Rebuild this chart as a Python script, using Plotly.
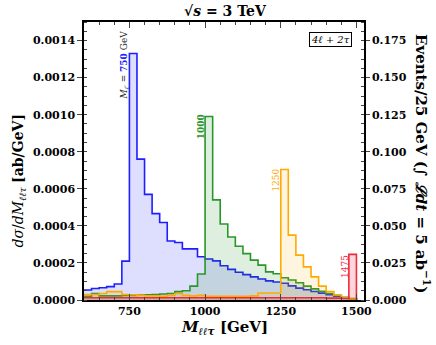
import numpy as np
import plotly.graph_objects as go

# 25 GeV bins, lower edges 600 ... 1475
bin_lo = np.arange(600, 1500, 25)
bin_width = 25
lumi = 5.0  # ab^-1

# dsigma/dM [ab/GeV]
m750 = [0.000054, 0.000062, 0.000066, 0.000072, 0.000086, 0.00021, 0.00133, 0.00076,
        0.00057, 0.000466, 0.000418, 0.000318, 0.00031, 0.000276, 0.000276, 0.000233,
        0.000221, 0.000211, 0.000185, 0.000165, 0.00015, 0.000137, 0.000125, 0.000113,
        0.000103, 0.000097, 0.00009, 0.000076, 0.000064, 0.000055, 0.000046, 0.000037,
        0.000028, 0.00002, 0.000012, 0.000006]
m1000 = [0.00002, 0.000035, 0.000022, 0.000022, 0.000022, 0.000025, 0.000025, 0.000027,
         0.000028, 0.00003, 0.000032, 0.000035, 0.000045, 0.00005, 0.000075, 0.00014,
         0.00099, 0.00054, 0.00041, 0.00034, 0.00029, 0.00025, 0.000215, 0.000188,
         0.000152, 0.000142, 0.00012, 0.000108, 0.000093, 0.000075, 0.00006, 0.000047,
         0.000035, 0.000025, 0.000015, 0.000008]
m1250 = [0.00003, 0.00003, 0.000035, 0.000045, 0.000045, 0.00003, 0.000028, 0.000025,
         0.000022, 0.000022, 0.00002, 0.000025, 0.000035, 0.000025, 0.000022, 0.000025,
         0.00002, 0.00002, 0.00002, 0.00002, 0.00002, 0.00002, 0.000022, 0.000038,
         0.000038, 0.000038, 0.000704, 0.00035, 0.000242, 0.000179, 0.000125, 0.000075,
         0.000045, 0.000027, 0.000012, 0.000005]
m1475 = [0.000012, 0.000012, 0.000012, 0.000012, 0.000012, 0.000012, 0.000012, 0.000012,
         0.000012, 0.000012, 0.000012, 0.000012, 0.000012, 0.000012, 0.000012, 0.000012,
         0.000012, 0.000012, 0.000012, 0.000012, 0.000012, 0.000012, 0.000012, 0.000012,
         0.000012, 0.000012, 0.000012, 0.000012, 0.000012, 0.000012, 0.000012, 0.000012,
         0.00001, 0.00001, 0.000008, 0.000246]

x_ticks = [750, 1000, 1250, 1500]
serif = "DejaVu Serif"

series = [
    (m750, "rgb(30,30,255)", "rgba(60,60,255,0.17)"),
    (m1000, "rgb(40,150,40)", "rgba(40,150,40,0.15)"),
    (m1250, "rgb(255,170,0)", "rgba(255,170,0,0.13)"),
    (m1475, "rgb(240,40,60)", "rgba(240,40,60,0.18)"),
]

edges = list(bin_lo) + [bin_lo[-1] + bin_width]

fig = go.Figure()
for vals, line_c, fill_c in series:
    fig.add_trace(
        go.Scatter(
            x=edges + [edges[-1]],
            y=list(vals) + [vals[-1], 0],
            mode="lines",
            line=dict(color=line_c, width=1.6, shape="hv"),
            fill="tozeroy",
            fillcolor=fill_c,
            showlegend=False,
            hoverinfo="skip",
        )
    )

# dummy trace so the event-count axis is drawn
fig.add_trace(go.Scatter(x=[None], y=[None], yaxis="y2", showlegend=False))

y_max = 0.0015
axis_common = dict(
    showline=True, linecolor="black", linewidth=1.5, showgrid=False, zeroline=False,
    tickfont=dict(family=serif, size=11, color="black"),
)

fig.update_layout(
    width=436,
    height=345,
    margin=dict(l=84, r=72, t=22, b=45),
    plot_bgcolor="white",
    paper_bgcolor="white",
    font=dict(family=serif, color="black"),
    xaxis=dict(
        range=[600, 1525], tickvals=x_ticks, ticktext=[f"<b>{t}</b>" for t in x_ticks],
        ticks="inside", ticklen=6, mirror="ticks",
        minor=dict(dtick=50, tick0=600, ticks="inside", ticklen=3), **axis_common,
    ),
    yaxis=dict(
        range=[0, y_max], dtick=0.0002, tickformat=".4f", ticks="outside", ticklen=5,
        minor=dict(dtick=0.00005, ticks="inside", ticklen=3), tickprefix="<b>", ticksuffix="</b>",
        **axis_common,
    ),
    yaxis2=dict(
        overlaying="y", side="right", range=[0, y_max * lumi * bin_width], dtick=0.025,
        tickformat=".3f", ticks="outside", ticklen=4,
        minor=dict(dtick=0.00625, ticks="inside", ticklen=3), tickprefix="<b>", ticksuffix="</b>",
        **axis_common,
    ),
)

ann = [
    dict(text="<b>√<i>s</i> = 3 TeV</b>", x=0.504, y=1.04, xref="paper", yref="paper",
         font=dict(size=14)),
    dict(text="<b><i>M</i><sub><i>ℓℓτ</i></sub> [GeV]</b>", x=0.5, y=-0.1, xref="paper",
         yref="paper", font=dict(size=15)),
    dict(text="<i>dσ</i>/<i>dM</i><sub><i>ℓℓτ</i></sub> <b>[ab/GeV]</b>", x=-0.232, y=0.43,
         xref="paper", yref="paper", textangle=-90, font=dict(size=14)),
    dict(text="<b>Events/25 GeV (∫ <i>ℒdt</i> = 5 ab<sup>−1</sup>)</b>", x=1.21, y=0.49,
         xref="paper", yref="paper", textangle=90, font=dict(size=15)),
    dict(text="<i>4ℓ + 2τ</i>", x=0.882, y=0.937, xref="paper", yref="paper",
         font=dict(size=10), bordercolor="black", borderwidth=1, borderpad=1,
         bgcolor="white"),
    dict(text="<i>M</i><sub><i>ℓ′</i></sub> = <span style='color:rgb(30,30,255)'><b>750</b></span> GeV",
         x=735, y=0.00127, textangle=-90, font=dict(size=9, color="rgb(40,40,40)")),
    dict(text="<b>1000</b>", x=985, y=0.000935, textangle=-90,
         font=dict(size=9, color="rgb(40,150,40)")),
    dict(text="1250", x=1236, y=0.000647, textangle=-90,
         font=dict(size=9, color="rgb(255,170,0)")),
    dict(text="1475", x=1462, y=0.000183, textangle=-90,
         font=dict(size=9, color="rgb(240,40,60)")),
]
for a in ann:
    a.setdefault("xref", "x")
    a.setdefault("yref", "y")
    a.update(showarrow=False, xanchor="center", yanchor="middle")
    fig.add_annotation(**a)

fig.write_html(
    "out.html",
    config={"displayModeBar": False},
    post_script="document.body.style.margin='0';",
)
